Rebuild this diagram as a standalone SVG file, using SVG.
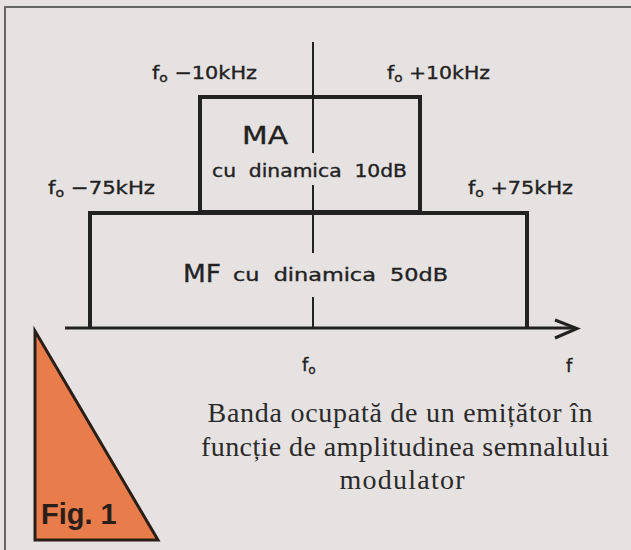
<svg xmlns="http://www.w3.org/2000/svg" width="631" height="550" viewBox="0 0 631 550">
<style>
.lbl{font-family:"DejaVu Sans",sans-serif;fill:#222;stroke:#222;stroke-width:0.35;}
.sub{font-size:12px;}
.box{fill:none;stroke:#222;stroke-width:4;}
.cap{font-family:"Liberation Serif",serif;font-size:28px;fill:#2a2a2a;text-anchor:middle;}
</style>
<rect x="0" y="0" width="631" height="550" fill="#e7e2e2"/>
<path d="M5,550 V7 H631" fill="none" stroke="#666" stroke-width="2"/>
<g id="connectors">
<path d="M313,42 V153 M313,185 V253 M313,297 V328" stroke="#222" stroke-width="2" fill="none"/>
<path d="M65,328 H575" stroke="#222" stroke-width="3" fill="none"/>
<path d="M555,320 L577,328.5 L555,338" stroke="#222" stroke-width="3" fill="none"/>
</g>
<g id="ma-box">
<rect class="box" x="200" y="97" width="220" height="115"/>
<text class="lbl" x="242" y="144" font-size="25" textLength="46" lengthAdjust="spacingAndGlyphs">MA</text>
<text class="lbl" x="212" y="177" font-size="17" textLength="195" lengthAdjust="spacingAndGlyphs" xml:space="preserve">cu  dinamica  10dB</text>
</g>
<g id="mf-box">
<path class="box" d="M90,328 V213 H527 V328"/>
<text class="lbl" x="183" y="282" font-size="25" textLength="38" lengthAdjust="spacingAndGlyphs">MF</text>
<text class="lbl" x="233" y="281" font-size="17" textLength="215" lengthAdjust="spacingAndGlyphs" xml:space="preserve">cu  dinamica  50dB</text>
</g>
<g id="labels">
<text class="lbl" x="152" y="79" font-size="18" textLength="105" lengthAdjust="spacingAndGlyphs">f<tspan class="sub" dy="3">o</tspan><tspan dy="-3"> −10kHz</tspan></text>
<text class="lbl" x="387" y="79" font-size="18" textLength="103" lengthAdjust="spacingAndGlyphs">f<tspan class="sub" dy="3">o</tspan><tspan dy="-3"> +10kHz</tspan></text>
<text class="lbl" x="48" y="194" font-size="18" textLength="107" lengthAdjust="spacingAndGlyphs">f<tspan class="sub" dy="3">o</tspan><tspan dy="-3"> −75kHz</tspan></text>
<text class="lbl" x="468" y="194" font-size="18" textLength="105" lengthAdjust="spacingAndGlyphs">f<tspan class="sub" dy="3">o</tspan><tspan dy="-3"> +75kHz</tspan></text>
<text class="lbl" x="302" y="371" font-size="18">f<tspan class="sub" dy="3">o</tspan></text>
<text class="lbl" x="566" y="372" font-size="18">f</text>
</g>
<g id="caption">
<text class="cap" x="400" y="422" textLength="385">Banda ocupată de un emițător în</text>
<text class="cap" x="405" y="456" textLength="408">funcție de amplitudinea semnalului</text>
<text class="cap" x="402" y="489" textLength="125">modulator</text>
</g>
<g id="fig">
<path d="M35,331 V540 H158 Z" fill="#e97c4b" stroke="#2a1e18" stroke-width="3" stroke-linejoin="miter"/>
<text x="41" y="524" font-family="Liberation Sans,sans-serif" font-weight="bold" font-size="29" fill="#2a1e18">Fig. 1</text>
</g>
</svg>
